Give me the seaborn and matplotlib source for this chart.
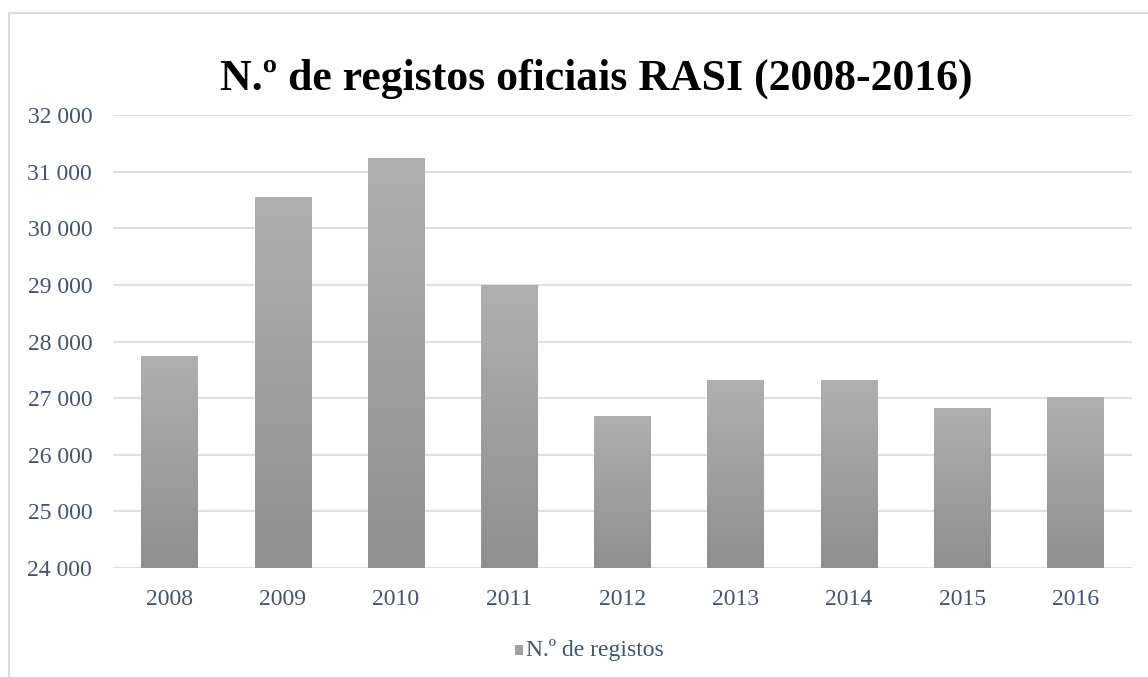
import matplotlib

matplotlib.use("Agg")
import matplotlib.pyplot as plt
import numpy as np
import pandas as pd
import seaborn as sns
from matplotlib.lines import Line2D
from matplotlib.patches import Rectangle
from matplotlib.ticker import FuncFormatter, MultipleLocator

# Data
years = ["2008", "2009", "2010", "2011", "2012", "2013", "2014", "2015", "2016"]
registos = [27745, 30555, 31240, 28990, 26686, 27320, 27320, 26827, 27021]

title = "N.º de registos oficiais RASI (2008-2016)"
legend_label = "N.º de registos"

sns.set_theme(style="white")
plt.rcParams["font.family"] = ["Liberation Serif", "DejaVu Serif"]

text_color = "#44546a"
grid_color = "#dde1e7"

df = pd.DataFrame({"Ano": years, "Registos": registos})

fig = plt.figure(figsize=(11.48, 6.77), dpi=100)
ax = fig.add_axes([0.0984, 0.161, 0.8877, 0.669])

sns.barplot(data=df, x="Ano", y="Registos", color="#a0a0a0", width=0.5,
            saturation=1, ax=ax, zorder=2)

ax.set_ylim(24000, 32000)
ax.yaxis.set_major_locator(MultipleLocator(1000))
ax.yaxis.set_major_formatter(FuncFormatter(lambda v, p: f"{int(v):,}".replace(",", " ")))
ax.grid(axis="y", color=grid_color, linewidth=1.5, zorder=0)
ax.set_axisbelow(True)
for s in ax.spines.values():
    s.set_visible(False)
ax.set_xlabel("")
ax.set_ylabel("")
ax.tick_params(axis="both", length=0, labelsize=17, labelcolor=text_color)
ax.tick_params(axis="x", pad=15)
ax.tick_params(axis="y", pad=15)

# vertical gradient on each bar (lighter top, darker bottom)
grad = np.linspace(0, 1, 256).reshape(-1, 1)
cmap = matplotlib.colors.LinearSegmentedColormap.from_list("g", ["#8f8f8f", "#afafaf"])
for bar in list(ax.patches):
    x0, y0 = bar.get_x(), bar.get_y()
    w, h = bar.get_width(), bar.get_height()
    bar.set_facecolor("none")
    bar.set_edgecolor("none")
    ylo = ax.get_ylim()[0]
    im = ax.imshow(grad, cmap=cmap, aspect="auto", origin="lower",
                   extent=[x0, x0 + w, ylo, y0 + h], zorder=2)
    im.set_clip_path(bar)
ax.set_xlim(-0.5, len(years) - 0.5)
ax.set_ylim(24000, 32000)

fig.text(0.519, 0.884, title, ha="center", va="center", fontsize=31.5,
         fontweight="bold", color="black")

# legend
fig.patches.append(Rectangle((0.4485, 0.0325), 0.0068, 0.0145, transform=fig.transFigure,
                             facecolor="#a0a0a0", edgecolor="none"))
fig.text(0.4585, 0.040, legend_label, ha="left", va="center", fontsize=17,
         color=text_color)

# outer chart border (left and top edges visible)
fig.lines.append(Line2D([0.0077, 0.0077], [0.0, 0.9815], transform=fig.transFigure,
                        color="#d9dde3", linewidth=1.5))
fig.lines.append(Line2D([0.0077, 1.0], [0.9815, 0.9815], transform=fig.transFigure,
                        color="#d9dde3", linewidth=1.5))

fig.savefig("out.png", dpi=100)
plt.close(fig)
